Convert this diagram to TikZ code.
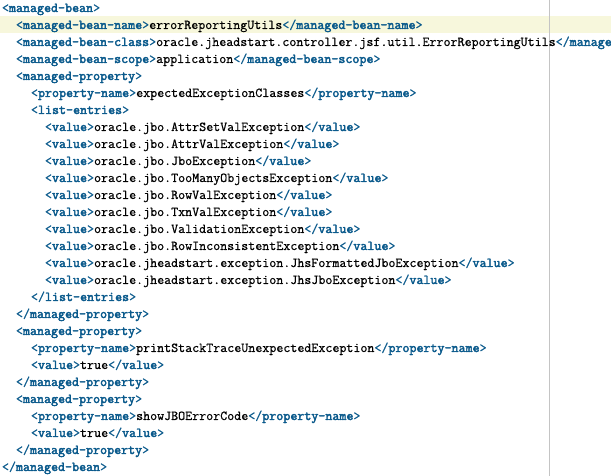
\documentclass[tikz,border=0pt]{standalone}
\usepackage{fontspec}
\setmonofont{Latin Modern Mono}[FakeBold=0.6]
\newfontfamily\tagboldfont{Latin Modern Mono}[FakeBold=2.6]
\definecolor{tagblue}{HTML}{0A5A8C}
\definecolor{hiline}{HTML}{F7F7DC}
\definecolor{margin}{HTML}{C4C4C4}
\newcommand\codesize{\fontsize{13.61}{17}\selectfont}
\newcommand\xo[1]{{\color{tagblue}<{\tagboldfont\codesize #1}>}}
\newcommand\xc[1]{{\color{tagblue}</{\tagboldfont\codesize #1}>}}
\tikzset{
  codeline/.style={anchor=base west, inner sep=0pt, outer sep=0pt,
    font=\ttfamily\codesize, text=black},
}
\begin{document}
\begin{tikzpicture}[x=1pt,y=1pt]
\useasboundingbox (0,0) rectangle (611,476);
\fill[white] (0,0) rectangle (611,476);
% current line highlight
\fill[hiline] (0,443) rectangle (611,460);
% right margin
\draw[margin, line width=1pt] (549.5,0) -- (549.5,476);
% code lines: baseline y = 476 - (12 + 17*(n-1))
\node[codeline] (l1)  at (2,464) {\xo{managed-bean}};
\node[codeline] (l2)  at (16,447) {\xo{managed-bean-name}errorReportingUtils\xc{managed-bean-name}};
\node[codeline] (l3)  at (16,430) {\xo{managed-bean-class}oracle.jheadstart.controller.jsf.util.ErrorReportingUtils{\color{tagblue}</{\tagboldfont\codesize manage}}};
\node[codeline] (l4)  at (16,413) {\xo{managed-bean-scope}application\xc{managed-bean-scope}};
\node[codeline] (l5)  at (16,396) {\xo{managed-property}};
\node[codeline] (l6)  at (31,379) {\xo{property-name}expectedExceptionClasses\xc{property-name}};
\node[codeline] (l7)  at (31,362) {\xo{list-entries}};
\node[codeline] (l8)  at (45,345) {\xo{value}oracle.jbo.AttrSetValException\xc{value}};
\node[codeline] (l9)  at (45,328) {\xo{value}oracle.jbo.AttrValException\xc{value}};
\node[codeline] (l10) at (45,311) {\xo{value}oracle.jbo.JboException\xc{value}};
\node[codeline] (l11) at (45,294) {\xo{value}oracle.jbo.TooManyObjectsException\xc{value}};
\node[codeline] (l12) at (45,277) {\xo{value}oracle.jbo.RowValException\xc{value}};
\node[codeline] (l13) at (45,260) {\xo{value}oracle.jbo.TxnValException\xc{value}};
\node[codeline] (l14) at (45,243) {\xo{value}oracle.jbo.ValidationException\xc{value}};
\node[codeline] (l15) at (45,226) {\xo{value}oracle.jbo.RowInconsistentException\xc{value}};
\node[codeline] (l16) at (45,209) {\xo{value}oracle.jheadstart.exception.JhsFormattedJboException\xc{value}};
\node[codeline] (l17) at (45,192) {\xo{value}oracle.jheadstart.exception.JhsJboException\xc{value}};
\node[codeline] (l18) at (31,175) {\xc{list-entries}};
\node[codeline] (l19) at (16,158) {\xc{managed-property}};
\node[codeline] (l20) at (16,141) {\xo{managed-property}};
\node[codeline] (l21) at (31,124) {\xo{property-name}printStackTraceUnexpectedException\xc{property-name}};
\node[codeline] (l22) at (31,107) {\xo{value}true\xc{value}};
\node[codeline] (l23) at (16,90)  {\xc{managed-property}};
\node[codeline] (l24) at (16,73)  {\xo{managed-property}};
\node[codeline] (l25) at (31,56)  {\xo{property-name}showJBOErrorCode\xc{property-name}};
\node[codeline] (l26) at (31,39)  {\xo{value}true\xc{value}};
\node[codeline] (l27) at (16,22)  {\xc{managed-property}};
\node[codeline] (l28) at (2,5)    {\xc{managed-bean}};
\end{tikzpicture}
\end{document}
